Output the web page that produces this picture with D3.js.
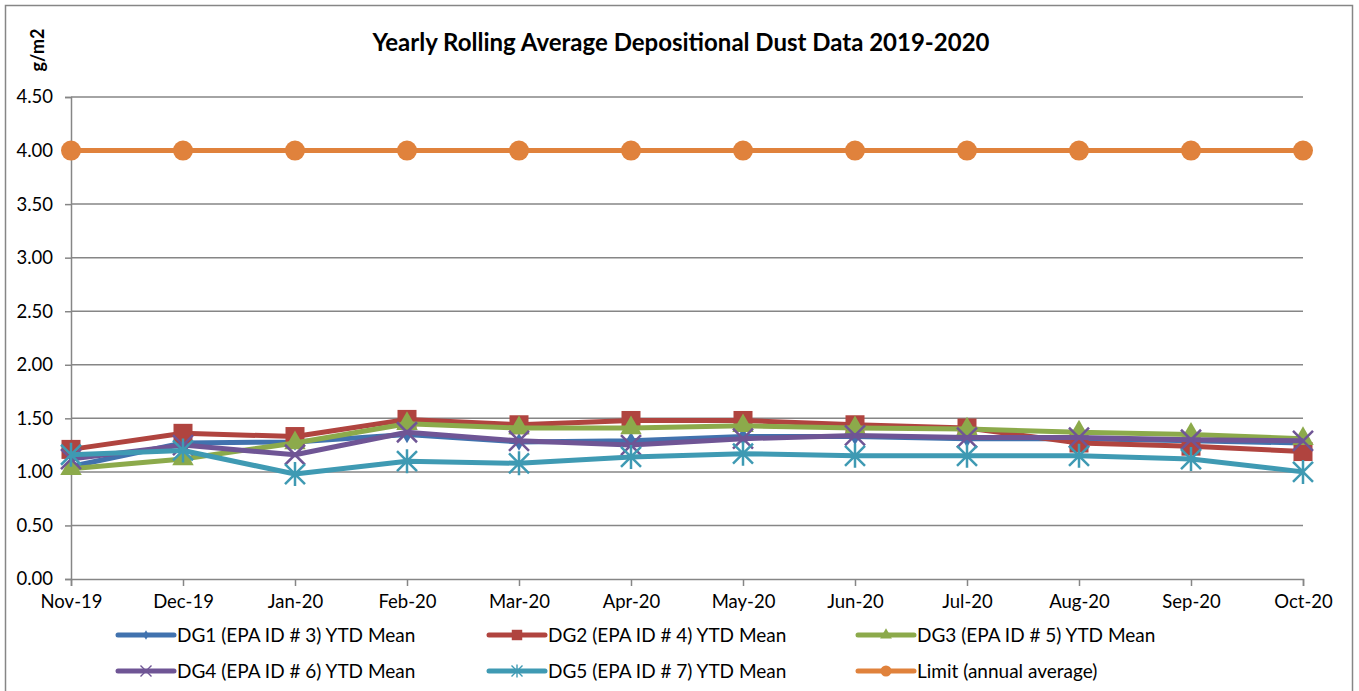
<!DOCTYPE html>
<html>
<head>
<meta charset="utf-8">
<script src="https://cdn.jsdelivr.net/npm/d3@7"></script>
<style>
    body { margin: 0; background: #fff; }
    text { font-family: Lato, "Open Sans", sans-serif; fill: #000; }
</style>
</head>
<body>
<script type="text/javascript">
    var months = ["Nov-19", "Dec-19", "Jan-20", "Feb-20", "Mar-20", "Apr-20",
                  "May-20", "Jun-20", "Jul-20", "Aug-20", "Sep-20", "Oct-20"];
    var dg1 = [1.05, 1.27, 1.28, 1.35, 1.28, 1.29, 1.33, 1.33, 1.31, 1.31, 1.29, 1.27];
    var dg2 = [1.21, 1.36, 1.33, 1.49, 1.44, 1.48, 1.48, 1.44, 1.41, 1.27, 1.24, 1.19];
    var dg3 = [1.03, 1.12, 1.27, 1.45, 1.41, 1.41, 1.43, 1.41, 1.40, 1.37, 1.35, 1.31];
    var dg4 = [1.12, 1.25, 1.16, 1.37, 1.29, 1.25, 1.31, 1.34, 1.32, 1.32, 1.30, 1.29];
    var dg5 = [1.16, 1.20, 0.98, 1.10, 1.08, 1.14, 1.17, 1.15, 1.15, 1.15, 1.12, 1.00];
    var limit = [4, 4, 4, 4, 4, 4, 4, 4, 4, 4, 4, 4];
    var yTicks = [0, 0.5, 1, 1.5, 2, 2.5, 3, 3.5, 4, 4.5];

    var series = [
        { name: "DG1 (EPA ID # 3) YTD Mean", values: dg1, color: "#4172AE", marker: "diamond" },
        { name: "DG2 (EPA ID # 4) YTD Mean", values: dg2, color: "#B0443F", marker: "square" },
        { name: "DG3 (EPA ID # 5) YTD Mean", values: dg3, color: "#8CAA4B", marker: "triangle" },
        { name: "DG4 (EPA ID # 6) YTD Mean", values: dg4, color: "#6F5595", marker: "x" },
        { name: "DG5 (EPA ID # 7) YTD Mean", values: dg5, color: "#3F9AB3", marker: "star" },
        { name: "Limit (annual average)", values: limit, color: "#E0823C", marker: "circle" }
    ];

    var svgWidth = 1359, svgHeight = 691;
    var svg = d3.select("body").append("svg")
        .attr("width", svgWidth).attr("height", svgHeight);

    // chart border
    svg.append("rect")
        .attr("x", 5.5).attr("y", 5.5)
        .attr("width", 1347).attr("height", 690)
        .attr("fill", "none").attr("stroke", "#868686").attr("stroke-width", 1.5);

    var plotLeft = 71, plotRight = 1303, plotTop = 97, plotBottom = 579;

    var x = d3.scalePoint().domain(months).range([plotLeft, plotRight]).padding(0);
    var y = d3.scaleLinear().domain([0, 4.5]).range([plotBottom, plotTop]);

    // gridlines
    svg.append("g").selectAll("line")
        .data(yTicks.filter(function (d) { return d > 0; }))
        .enter().append("line")
        .attr("x1", plotLeft).attr("x2", plotRight)
        .attr("y1", function (d) { return y(d); })
        .attr("y2", function (d) { return y(d); })
        .attr("stroke", "#868686").attr("stroke-width", 1.5);

    // y axis
    var yAxis = svg.append("g")
        .attr("transform", "translate(" + plotLeft + ",0)")
        .call(d3.axisLeft(y).tickValues(yTicks).tickFormat(d3.format(".2f")).tickSize(6).tickPadding(12));
    // x axis
    var xAxis = svg.append("g")
        .attr("transform", "translate(0," + plotBottom + ")")
        .call(d3.axisBottom(x).tickSize(7).tickPadding(9));

    [yAxis, xAxis].forEach(function (ax) {
        ax.select(".domain").attr("stroke", "#868686").attr("stroke-width", 1.5);
        ax.selectAll(".tick line").attr("stroke", "#868686").attr("stroke-width", 1.5);
        ax.selectAll(".tick text").style("font-size", "18.5px").attr("fill", "#000");
    });

    // titles
    svg.append("text")
        .attr("x", 681).attr("y", 51)
        .attr("text-anchor", "middle")
        .style("font-size", "24px").style("font-weight", "bold")
        .text("Yearly Rolling Average Depositional Dust Data 2019-2020");
    svg.append("text")
        .attr("transform", "translate(44,50) rotate(-90)")
        .attr("text-anchor", "middle")
        .style("font-size", "18px").style("font-weight", "bold")
        .text("g/m2");

    function drawMarker(g, type, color, cx, cy) {
        if (type === "diamond") {
            g.append("path").attr("d", d3.symbol().type(d3.symbolDiamond).size(90)())
                .attr("transform", "translate(" + cx + "," + cy + ")").attr("fill", color);
        } else if (type === "square") {
            g.append("rect").attr("x", cx - 9.5).attr("y", cy - 9.5)
                .attr("width", 19).attr("height", 19).attr("fill", color);
        } else if (type === "triangle") {
            g.append("path").attr("d", d3.symbol().type(d3.symbolTriangle).size(200)())
                .attr("transform", "translate(" + cx + "," + cy + ")").attr("fill", color);
        } else if (type === "x") {
            g.append("path")
                .attr("d", "M-10,-10L10,10M-10,10L10,-10")
                .attr("transform", "translate(" + cx + "," + cy + ")")
                .attr("stroke", color).attr("stroke-width", 2.5).attr("fill", "none");
        } else if (type === "star") {
            g.append("path")
                .attr("d", "M-10,-10L10,10M-10,10L10,-10M0,-12L0,12")
                .attr("transform", "translate(" + cx + "," + cy + ")")
                .attr("stroke", color).attr("stroke-width", 2.5).attr("fill", "none");
        } else if (type === "circle") {
            g.append("circle").attr("cx", cx).attr("cy", cy).attr("r", 10).attr("fill", color);
        }
    }

    var line = d3.line()
        .x(function (d, i) { return x(months[i]); })
        .y(function (d) { return y(d); });

    series.forEach(function (s) {
        var g = svg.append("g");
        g.append("path")
            .attr("d", line(s.values))
            .attr("fill", "none")
            .attr("stroke", s.color)
            .attr("stroke-width", 5)
            .attr("stroke-linejoin", "round");
        s.values.forEach(function (v, i) {
            drawMarker(g, s.marker, s.color, x(months[i]), y(v));
        });
    });

    // legend
    var legendPos = [[118, 635], [489, 635], [858, 635], [118, 671], [489, 671], [858, 671]];
    var legend = svg.append("g");
    series.forEach(function (s, i) {
        var lx = legendPos[i][0], ly = legendPos[i][1];
        var g = legend.append("g");
        g.append("line")
            .attr("x1", lx).attr("x2", lx + 56)
            .attr("y1", ly).attr("y2", ly)
            .attr("stroke", s.color).attr("stroke-width", 5).attr("stroke-linecap", "round");
        var mk = g.append("g").attr("transform", "translate(" + (lx + 28) + "," + ly + ") scale(0.55)");
        drawMarker(mk, s.marker, s.color, 0, 0);
        g.append("text")
            .attr("x", lx + 59).attr("y", ly + 7)
            .style("font-size", "19px")
            .text(s.name);
    });
</script>
</body>
</html>
